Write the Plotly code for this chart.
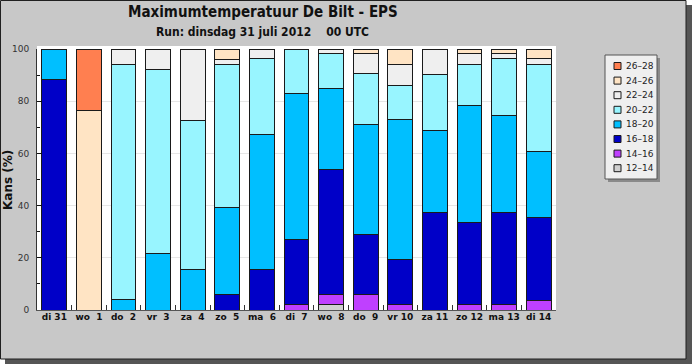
import plotly.graph_objects as go

days = ["di 31", "wo  1", "do  2", "vr  3", "za  4", "zo  5", "ma  6", "di  7",
        "wo  8", "do  9", "vr 10", "za 11", "zo 12", "ma 13", "di 14"]

t12_14 = [0, 0, 0, 0, 0, 0, 0, 0, 2.0, 0, 0, 0, 0, 0, 0]
t14_16 = [0, 0, 0, 0, 0, 0, 0, 2.0, 3.8, 5.8, 2.0, 0, 2.0, 2.0, 3.8]
t16_18 = [88.2, 0, 0, 0, 0, 5.9, 15.5, 25.0, 48.1, 23.2, 17.4, 37.4, 31.4, 35.4, 31.5]
t18_20 = [11.8, 0, 3.9, 21.6, 15.7, 33.3, 51.9, 55.8, 30.8, 42.2, 53.4, 31.3, 45.0, 37.0, 25.5]
t20_22 = [0, 0, 90.2, 70.6, 56.9, 54.9, 28.8, 17.2, 13.6, 19.4, 13.4, 21.6, 15.8, 21.8, 33.4]
t22_24 = [0, 0, 5.9, 7.8, 27.4, 2.0, 3.8, 0, 1.7, 7.7, 8.0, 9.7, 4.1, 2.1, 2.0]
t24_26 = [0, 76.5, 0, 0, 0, 3.9, 0, 0, 0, 1.7, 5.8, 0, 1.7, 1.7, 3.8]
t26_28 = [0, 23.5, 0, 0, 0, 0, 0, 0, 0, 0, 0, 0, 0, 0, 0]

series_names = ["12–14", "14–16", "16–18", "18–20", "20–22", "22–24", "24–26", "26–28"]
series_values = [t12_14, t14_16, t16_18, t18_20, t20_22, t22_24, t24_26, t26_28]
series_colors = ["#d0d0d0", "#bf40ff", "#0000c8", "#00bfff", "#98f5ff", "#efefef", "#ffe4c4", "#ff7f50"]

y_ticks = [0, 20, 40, 60, 80, 100]

W, H = 692, 364
ML, MR, MT, MB = 37, 136, 49, 54
PW, PH = W - ML - MR, H - MT - MB


def fx(px):
    return (px - ML) / PW


def fy(py):
    return (H - MB - py) / PH


fig = go.Figure()
for name, vals, col in zip(series_names, series_values, series_colors):
    fig.add_trace(go.Bar(
        x=days, y=[v if v else None for v in vals], name=name,
        marker=dict(color=col, line=dict(color="#1a1a1a", width=1)),
        width=0.72, showlegend=False,
    ))

shapes = [
    # drop shadow of the panel
    dict(type="rect", xref="paper", yref="paper", layer="below",
         x0=fx(5), x1=fx(692), y0=fy(364), y1=fy(5),
         fillcolor="#555555", line=dict(width=0)),
    # grey panel
    dict(type="rect", xref="paper", yref="paper", layer="below",
         x0=fx(0.5), x1=fx(686), y0=fy(359), y1=fy(0.5),
         fillcolor="#c8c8c8", line=dict(color="#202020", width=1)),
    # white plot area
    dict(type="rect", xref="paper", yref="paper", layer="below",
         x0=fx(37), x1=fx(556), y0=fy(310), y1=fy(46),
         fillcolor="#ffffff", line=dict(width=0)),
    # legend shadow + box
    dict(type="rect", xref="paper", yref="paper", layer="below",
         x0=fx(608), x1=fx(660), y0=fy(182), y1=fy(58),
         fillcolor="#8a8a8a", line=dict(width=0)),
    dict(type="rect", xref="paper", yref="paper", layer="below",
         x0=fx(605), x1=fx(657), y0=fy(179), y1=fy(55),
         fillcolor="#efefef", line=dict(color="#555555", width=1)),
]

annotations = [
    dict(text="<b>Maximumtemperatuur De Bilt - EPS</b>", xref="paper", yref="paper",
         x=fx(263), y=fy(12), showarrow=False, xanchor="center", yanchor="middle",
         font=dict(family="DejaVu Sans Condensed, DejaVu Sans", size=15, color="#111111")),
    dict(text="<b>Run: dinsdag 31 juli 2012    00 UTC</b>", xref="paper", yref="paper",
         x=fx(262), y=fy(32), showarrow=False, xanchor="center", yanchor="middle",
         font=dict(family="DejaVu Sans Condensed, DejaVu Sans", size=12, color="#111111")),
    dict(text="<b>Kans (%)</b>", xref="paper", yref="paper", textangle=-90,
         x=fx(8), y=fy(180), showarrow=False, xanchor="center", yanchor="middle",
         font=dict(family="DejaVu Sans", size=12, color="#111111")),
]

# legend built from series (top = warmest)
for i, (name, col) in enumerate(zip(series_names[::-1], series_colors[::-1])):
    cy = 66 + i * 14.6
    shapes.append(dict(type="rect", xref="paper", yref="paper",
                       x0=fx(614), x1=fx(621), y0=fy(cy + 3.5), y1=fy(cy - 3.5),
                       fillcolor=col, line=dict(color="#1a1a1a", width=1)))
    annotations.append(dict(text=name, xref="paper", yref="paper",
                            x=fx(624), y=fy(cy), showarrow=False,
                            xanchor="left", yanchor="middle",
                            font=dict(family="DejaVu Sans", size=9, color="#222222")))

fig.update_layout(
    width=W, height=H, autosize=False,
    margin=dict(l=ML, r=MR, t=MT, b=MB, pad=0, autoexpand=False),
    paper_bgcolor="#ffffff", plot_bgcolor="#ffffff",
    barmode="stack", bargap=0.28,
    shapes=shapes, annotations=annotations,
    font=dict(family="DejaVu Sans", size=9, color="#333333"),
)
fig.update_xaxes(
    type="category", range=[-0.5, len(days) - 0.5], automargin=False,
    tickangle=0,
    showline=True, linecolor="#555555", linewidth=1,
    ticks="inside", ticklen=5, tickcolor="#333333", tickson="boundaries",
    tickfont=dict(family="DejaVu Sans", size=9, color="#111111", weight="bold"),
    ticklabelstandoff=-2,
    showgrid=False, zeroline=False,
)
fig.update_yaxes(
    range=[0, 100], tickvals=y_ticks, automargin=False,
    showline=True, linecolor="#333333", linewidth=1,
    ticks="inside", ticklen=5, tickcolor="#111111",
    minor=dict(dtick=10, ticks="inside", ticklen=3, tickcolor="#111111", showgrid=False),
    showgrid=True, gridcolor="#e6e6e6", gridwidth=1, zeroline=False,
    tickfont=dict(family="DejaVu Sans", size=9, color="#333333"),
    ticklabelstandoff=5,
)

fig.write_html(
    "out.html",
    config={"displayModeBar": False},
    post_script="document.body.style.margin='0';document.body.style.overflow='hidden';",
)
